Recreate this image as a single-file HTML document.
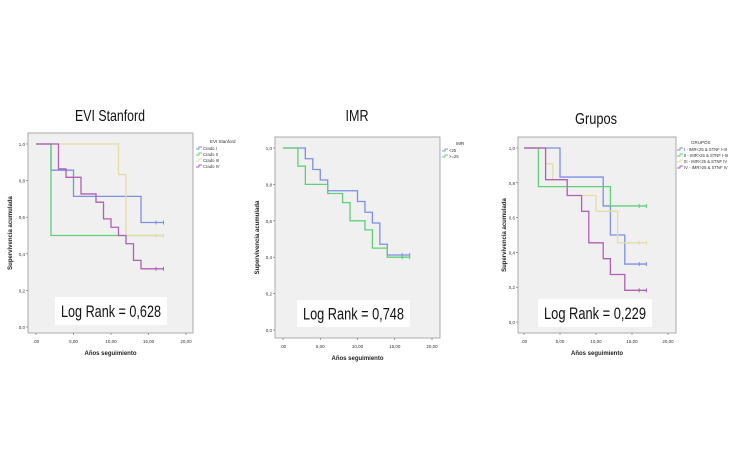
<!DOCTYPE html>
<html><head><meta charset="utf-8">
<style>
body{margin:0;background:#fff;width:750px;height:469px;overflow:hidden;font-family:"Liberation Sans",sans-serif;}
svg{display:block}
</style></head>
<body>
<svg id="s" width="750" height="469" viewBox="0 0 750 469"></svg>
<script>
// Panel 1 data
const p1Times = {gradoI:[0,2,5,14,17], gradoII:[0,2,17], gradoIII:[0,11,12,17], gradoIV:[0,3,4,6,8,9,10,11,12,13,14,17]};
const p1Surv = {gradoI:[1,0.857,0.714,0.571,0.571], gradoII:[1,0.5,0.5], gradoIII:[1,0.833,0.5,0.5], gradoIV:[1,0.864,0.818,0.727,0.682,0.591,0.545,0.5,0.455,0.364,0.318,0.318]};
// Panel 2 data
const p2Times = {lt25:[0,3,4,5,6,10,11,12,13,14,17], ge25:[0,2,3,6,8,9,11,12,14,17]};
const p2Surv = {lt25:[1,0.941,0.882,0.824,0.765,0.706,0.647,0.588,0.471,0.412,0.412], ge25:[1,0.9,0.8,0.75,0.7,0.6,0.55,0.45,0.4,0.4]};
// Panel 3 data
const p3Times = {g1:[0,5,11,12,14,17], g2:[0,2,12,17], g3:[0,3,4,6,10,13,17], g4:[0,3,6,8,9,11,12,14,17]};
const p3Surv = {g1:[1,0.833,0.667,0.5,0.333,0.333], g2:[1,0.778,0.667,0.667], g3:[1,0.909,0.818,0.727,0.636,0.455,0.455], g4:[1,0.818,0.727,0.636,0.455,0.364,0.273,0.182,0.182]};
const censorTimes = [16,17];
const xTicks = [".00","5,00","10,00","15,00","20,00"];
const xTickVals = [0,5,10,15,20];
const yTicks = ["0,0","0,2","0,4","0,6","0,8","1,0"];
const yTickVals = [0,0.2,0.4,0.6,0.8,1];

const C = {blue:"#7d8fe3",green:"#5fcf78",yellow:"#e6dca6",purple:"#b25fb4"};
const NS="http://www.w3.org/2000/svg";
const svg=document.getElementById('s');
function mk(t,a,p){const e=document.createElementNS(NS,t);for(const k in a)e.setAttribute(k,a[k]);(p||svg).appendChild(e);return e;}

const panels=[
 {name:"evi-stanford",title:"EVI Stanford",tw:70,tx:110,ty:121,box:[28,133,193,333],x0:36,x20:186,y1:144,y0:327,
  legTitle:"EVI Stanford",legX:196,legY:143,
  series:[["grado-i","Crado I",C.blue,"gradoI"],["grado-ii","Crado II",C.green,"gradoII"],["grado-iii","Crado III",C.yellow,"gradoIII"],["grado-iv","Crado IV",C.purple,"gradoIV"]],
  T:p1Times,S:p1Surv,lr:"Log Rank = 0,628",lrBox:[55,297,112,28],yl:12},
 {name:"imr",title:"IMR",tw:23,tx:357,ty:121,box:[275,137,440,338],x0:283,x20:432,y1:148,y0:330,
  legTitle:"IMR",legX:442,legY:145,
  series:[["imr-lt25","<25",C.blue,"lt25"],["imr-ge25",">=25",C.green,"ge25"]],
  T:p2Times,S:p2Surv,lr:"Log Rank = 0,748",lrBox:[297,300,113,27],yl:259},
 {name:"grupos",title:"Grupos",tw:42,tx:596,ty:124,box:[518,137,676,333],x0:524,x20:668,y1:148,y0:322,
  legTitle:"GRUPOS",legX:677,legY:144,
  series:[["grupo-i","I - IMR<25 & STNF I-III",C.blue,"g1"],["grupo-ii","II - IMR>25 & STNF I-III",C.green,"g2"],["grupo-iii","III - IMR<25 & STNF IV",C.yellow,"g3"],["grupo-iv","IV - IMR>25 & STNF IV",C.purple,"g4"]],
  T:p3Times,S:p3Surv,lr:"Log Rank = 0,229",lrBox:[538,299,114,28],yl:506}
];

panels.forEach(p=>{
 const g=mk('g',{});
 
 
 const sx=v=>p.x0+(p.x20-p.x0)*v/20;
 const sy=v=>p.y0-(p.y0-p.y1)*v;
 const t=mk('text',{x:p.tx,y:p.ty,'text-anchor':'middle','font-size':16,fill:'#111',textLength:p.tw,lengthAdjust:'spacingAndGlyphs'},g);t.textContent=p.title;
 
 const [l,tp,r,b]=p.box;
 const bg=mk('rect',{x:l,y:tp,width:r-l,height:b-tp,fill:'#f0f0f0',stroke:'#999','stroke-width':0.8},g);
 
 yTickVals.forEach((v,i)=>{
  mk('line',{x1:l-2,x2:l,y1:sy(v),y2:sy(v),stroke:'#666','stroke-width':0.6},g);
  const tt=mk('text',{x:l-3,y:sy(v)+2,'text-anchor':'end','font-size':4.5,fill:'#333'},g);tt.textContent=yTicks[i];
  
 });
 xTickVals.forEach((v,i)=>{
  mk('line',{x1:sx(v),x2:sx(v),y1:b,y2:b+2,stroke:'#666','stroke-width':0.6},g);
  const tt=mk('text',{x:sx(v),y:b+10,'text-anchor':'middle','font-size':4.5,fill:'#333'},g);tt.textContent=xTicks[i];
  
 });
 const xt=mk('text',{x:(l+r)/2,y:b+22,'text-anchor':'middle','font-size':6,'font-weight':'bold',fill:'#222'},g);xt.textContent='Años seguimiento';
 
 const yt=mk('text',{x:p.yl,y:(tp+b)/2,'text-anchor':'middle','font-size':6,'font-weight':'bold',fill:'#222',transform:`rotate(-90 ${p.yl} ${(tp+b)/2})`},g);yt.textContent='Supervivencia acumulada';
 
 p.series.forEach(s=>{
  const T=p.T[s[3]],S=p.S[s[3]];
  let d=`M${sx(T[0])},${sy(S[0])}`;
  for(let i=1;i<T.length;i++){d+=`H${sx(T[i])}V${sy(S[i])}`;}
  const pa=mk('path',{d:d,fill:'none',stroke:s[2],'stroke-width':1.3},g);
  
  censorTimes.forEach(ct=>{
   const yv=sy(S[S.length-1]);
   const c=mk('line',{x1:sx(ct),x2:sx(ct),y1:yv-2,y2:yv+2,stroke:s[2],'stroke-width':1},g);
   
  });
 });
 const lt=mk('text',{x:p.legX+14,y:p.legY,'font-size':4.5,fill:'#333'},g);lt.textContent=p.legTitle;
 
 p.series.forEach((s,i)=>{
  const y=p.legY+6+i*6;
  const le=mk('g',{},g);
  
  mk('path',{d:`M${p.legX},${y}h3v-2h3`,fill:'none',stroke:s[2],'stroke-width':0.9},le);
  const tx=mk('text',{x:p.legX+7,y:y+1,'font-size':4.2,fill:'#333'},le);tx.textContent=s[1];
 });
 const [bx,by,bw,bh]=p.lrBox;
 const lb=mk('rect',{x:bx,y:by,width:bw,height:bh,fill:'#fff'},g);
 
 const lrt=mk('text',{x:bx+bw/2,y:by+bh/2+6,'text-anchor':'middle','font-size':17,fill:'#111',textLength:bw-12,lengthAdjust:'spacingAndGlyphs'},g);lrt.textContent=p.lr;
 
});
</script>
</body></html>
